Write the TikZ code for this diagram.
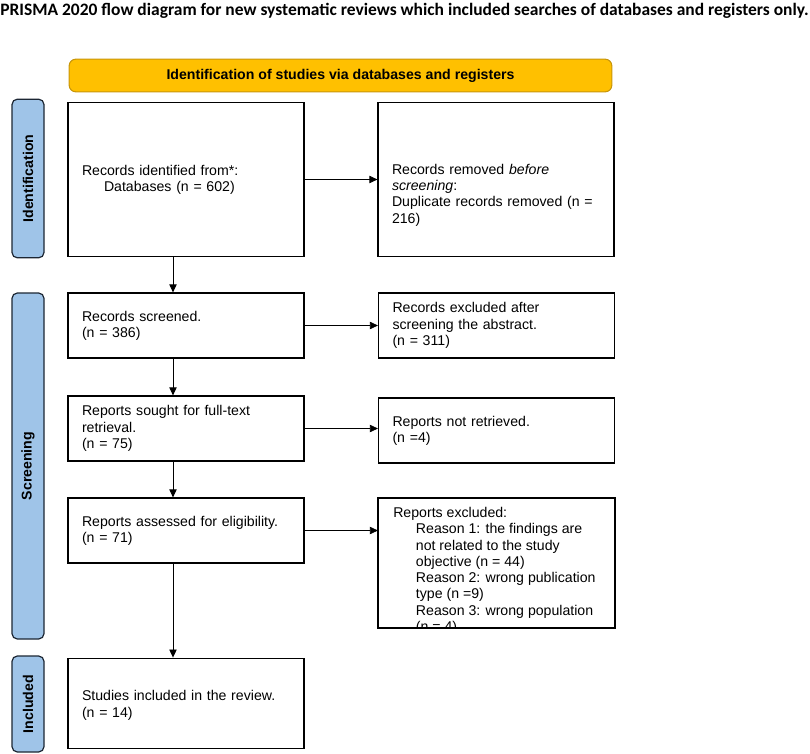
\documentclass[tikz,border=0pt]{standalone}
\usepackage{fontspec}
\setmainfont{Liberation Sans}
\newfontfamily\titlefont{Carlito}
\usetikzlibrary{arrows.meta}

\definecolor{bannergold}{HTML}{FFC000}
\definecolor{bannerline}{HTML}{C8960A}
\definecolor{phaseblue}{HTML}{9FC4E8}
\definecolor{phaseline}{HTML}{1C2633}

\begin{document}
\begin{tikzpicture}[x=0.75pt,y=-0.75pt,
  flowbox/.style={draw,line width=0.9pt,fill=white,minimum width=177pt,inner xsep=10.5pt,
    text width=156pt,align=left,font=\fontsize{10.6}{12.2}\selectfont},
  phase/.style={draw=phaseline,line width=0.9pt,fill=phaseblue,rounded corners=4pt,rotate=90,
    minimum height=24pt,inner sep=0pt,font=\fontsize{10.6}{12}\selectfont\bfseries},
  flowarrow/.style={line width=0.6pt,-{Triangle[length=6pt,width=5.5pt]}}]
  \useasboundingbox (0,0) rectangle (810,753);

  \node[anchor=base west,inner sep=0pt,font=\titlefont\bfseries\fontsize{13.1}{15}\selectfont] (title) at (0,15)
    {PRISMA 2020 flow diagram for new systematic reviews which included searches of databases and registers only.};

  \node[draw=bannerline,line width=0.8pt,fill=bannergold,rounded corners=5pt,minimum width=407pt,minimum height=24.5pt,
    font=\fontsize{10.6}{12}\selectfont\bfseries] (banner) at (340.5,75.5) {Identification of studies via databases and registers};

  \node[phase,minimum width=119pt] (idphase) at (28,178.5) {Identification};
  \node[phase,minimum width=259.5pt] (scphase) at (28,466) {Screening};
  \node[phase,minimum width=72pt] (inphase) at (28,704) {Included};

  \node[flowbox,minimum height=116pt,text depth=13.7pt] (rec) at (186,179.5)
    {Records identified from*:\\\hspace*{16.5pt}Databases (n = 602)};
  \node[flowbox,minimum height=116pt,text depth=15.3pt] (dup) at (496,179.5)
    {Records removed \textit{before}\\\textit{screening}:\\Duplicate records removed (n =\\216)};
  \node[flowbox,minimum height=48.75pt] (scr) at (186,325.5) {Records screened.\\(n = 386)};
  \node[flowbox,minimum height=48.75pt] (abs) at (496.5,325.5)
    {Records excluded after\\screening the abstract.\\(n = 311)};
  \node[flowbox,minimum height=48.75pt] (ret) at (186,428.5)
    {Reports sought for full-text\\retrieval.\\(n = 75)};
  \node[flowbox,minimum height=48.75pt] (nret) at (496.5,430.5) {Reports not retrieved.\\(n =4)};
  \node[flowbox,minimum height=48.75pt] (elig) at (186,530.5)
    {Reports assessed for eligibility.\\(n = 71)};
  \node[flowbox,minimum height=68pt,text depth=11.5pt] (incl) at (186,703.5)
    {Studies included in the review.\\(n = 14)};

  \node[flowbox,minimum height=97.5pt] (excl) at (496.5,563) {};
  \begin{scope}
    \clip (excl.north west) rectangle (excl.south east);
    \node[anchor=north west,inner sep=0pt,align=left,font=\fontsize{10.6}{12.2}\selectfont] (excltext) at (393,507)
      {Reports excluded:\\
       \hspace*{17pt}Reason 1: the findings are\\
       \hspace*{17pt}not related to the study\\
       \hspace*{17pt}objective (n = 44)\\
       \hspace*{17pt}Reason 2: wrong publication\\
       \hspace*{17pt}type (n =9)\\
       \hspace*{17pt}Reason 3: wrong population\\
       \hspace*{17pt}(n = 4)};
  \end{scope}
  \draw[line width=0.9pt] (excl.north west) rectangle (excl.south east);

  \coordinate (spine) at (173,0);
  \draw[flowarrow] (rec.south -| spine) -- (scr.north -| spine);
  \draw[flowarrow] (scr.south -| spine) -- (ret.north -| spine);
  \draw[flowarrow] (ret.south -| spine) -- (elig.north -| spine);
  \draw[flowarrow] (elig.south -| spine) -- (incl.north -| spine);
  \draw[flowarrow] (rec) -- (dup);
  \draw[flowarrow] (scr) -- (abs);
  \draw[flowarrow] (ret.east) -- (ret.east -| nret.west);
  \draw[flowarrow] (elig.east) -- (elig.east -| excl.west);
\end{tikzpicture}
\end{document}
